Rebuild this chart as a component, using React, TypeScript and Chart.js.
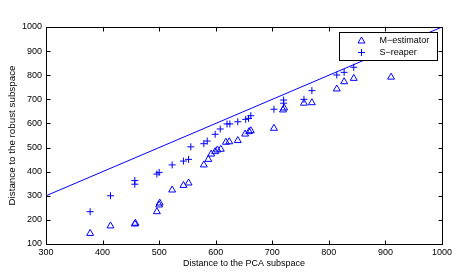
import React, { useEffect, useRef } from "react";
import { Chart, registerables } from "chart.js";

Chart.register(...registerables);

const xTicks = [300, 400, 500, 600, 700, 800, 900, 1000];
const yTicks = [100, 200, 300, 400, 500, 600, 700, 800, 900, 1000];

const mEstimatorX = [378, 414, 457, 458, 496, 500, 501, 523, 543, 552, 579, 587, 592, 599, 603, 609, 618, 624, 639, 652, 659, 662, 703, 719, 721, 756, 770, 814, 827, 844, 910];
const mEstimatorY = [144, 175, 183, 186, 234, 262, 270, 324, 343, 353, 428, 451, 473, 483, 490, 493, 522, 524, 529, 556, 566, 570, 580, 656, 664, 684, 686, 743, 773, 787, 792];

const sReaperX = [378, 414, 457, 457, 496, 500, 523, 543, 552, 556, 579, 585, 599, 608, 620, 625, 639, 653, 658, 662, 703, 720, 720, 756, 770, 814, 827, 844];
const sReaperY = [234, 300, 348, 363, 390, 397, 428, 444, 451, 503, 516, 527, 555, 577, 598, 598, 607, 617, 621, 632, 659, 684, 697, 700, 736, 801, 812, 833];

const identityX = [300, 1000];
const identityY = [300, 1000];

const seriesNames = ["M\u2212estimator", "S\u2212reaper"];
const BLUE = "rgb(0,0,255)";
const FONT = "'Liberation Sans', Arial, sans-serif";

const framePlugin = {
  id: "frame",
  afterDraw(chart: any) {
    const { ctx, chartArea: a, scales } = chart;
    ctx.save();
    ctx.strokeStyle = "#000";
    ctx.lineWidth = 1;
    const L = Math.round(a.left) + 0.5, R = Math.round(a.right) + 0.5;
    const T = Math.round(a.top) + 0.5, B = Math.round(a.bottom) + 0.5;
    ctx.strokeRect(L, T, R - L, B - T);
    const tl = 4;
    ctx.beginPath();
    for (const v of xTicks) {
      const x = Math.round(scales.x.getPixelForValue(v)) + 0.5;
      ctx.moveTo(x, B); ctx.lineTo(x, B - tl);
      ctx.moveTo(x, T); ctx.lineTo(x, T + tl);
    }
    for (const v of yTicks) {
      const y = Math.round(scales.y.getPixelForValue(v)) + 0.5;
      ctx.moveTo(L, y); ctx.lineTo(L + tl, y);
      ctx.moveTo(R, y); ctx.lineTo(R - tl, y);
    }
    ctx.stroke();

    // legend box
    const bx = Math.round(a.right) - 103 + 0.5, by = Math.round(a.top) + 5.5;
    const bw = 98, bh = 28;
    ctx.fillStyle = "#fff";
    ctx.fillRect(bx, by, bw, bh);
    ctx.strokeRect(bx, by, bw, bh);
    ctx.font = "9px " + FONT;
    ctx.textBaseline = "middle";
    const ds = chart.data.datasets;
    for (let i = 0; i < 2; i++) {
      const cy = by + 8 + i * 12;
      const mx = bx + 22;
      ctx.strokeStyle = BLUE;
      ctx.lineWidth = 1;
      if (i === 0) {
        ctx.beginPath();
        ctx.moveTo(mx, cy - 3.5);
        ctx.lineTo(mx + 3.5, cy + 2.5);
        ctx.lineTo(mx - 3.5, cy + 2.5);
        ctx.closePath();
        ctx.stroke();
      } else {
        ctx.beginPath();
        ctx.moveTo(mx - 3.5, cy); ctx.lineTo(mx + 3.5, cy);
        ctx.moveTo(mx, cy - 3.5); ctx.lineTo(mx, cy + 3.5);
        ctx.stroke();
      }
      ctx.fillStyle = "#000";
      ctx.fillText(ds[i].label, bx + 40, cy);
    }
    ctx.restore();
  },
};

export default function App() {
  const ref = useRef<HTMLCanvasElement | null>(null);
  useEffect(() => {
    if (!ref.current) return;
    const toPts = (xs: number[], ys: number[]) => xs.map((x, i) => ({ x, y: ys[i] }));
    const chart = new Chart(ref.current, {
      type: "scatter",
      data: {
        datasets: [
          {
            label: seriesNames[0],
            data: toPts(mEstimatorX, mEstimatorY),
            pointStyle: "triangle",
            pointRadius: 4,
            borderColor: BLUE,
            backgroundColor: "rgba(0,0,0,0)",
            borderWidth: 1,
          },
          {
            label: seriesNames[1],
            data: toPts(sReaperX, sReaperY),
            pointStyle: "cross",
            pointRadius: 3.5,
            borderColor: BLUE,
            backgroundColor: BLUE,
            borderWidth: 1,
          },
          {
            label: "y = x",
            data: toPts(identityX, identityY),
            showLine: true,
            pointRadius: 0,
            borderColor: BLUE,
            borderWidth: 1,
          },
        ],
      },
      options: {
        animation: false,
        responsive: false,
        layout: { padding: { top: 27, right: 22, left: 0, bottom: 0 } },
        plugins: { legend: { display: false }, tooltip: { enabled: false } },
        scales: {
          x: {
            type: "linear",
            min: 300,
            max: 1000,
            grid: { display: false, drawTicks: false, tickLength: 0 },
            border: { display: false },
            ticks: {
              stepSize: 100,
              padding: 3,
              color: "#000",
              font: { family: FONT, size: 9 },
              maxRotation: 0,
              callback: (v: any) => String(v),
            },
            title: { display: true, text: "Distance to the PCA subspace", color: "#000", font: { family: FONT, size: 9 }, padding: { top: 0, bottom: 3 } },
            afterFit: (s: any) => { s.height = 28; },
          },
          y: {
            type: "linear",
            min: 100,
            max: 1000,
            grid: { display: false, drawTicks: false, tickLength: 0 },
            border: { display: false },
            ticks: {
              stepSize: 100,
              padding: 4,
              color: "#000",
              font: { family: FONT, size: 9 },
              callback: (v: any) => String(v),
            },
            title: { display: true, text: "Distance to the robust subspace", color: "#000", font: { family: FONT, size: 9.8 }, padding: { top: 6, bottom: 0 } },
            afterFit: (s: any) => { s.width = 46; },
          },
        },
      },
      plugins: [framePlugin],
    });
    return () => chart.destroy();
  }, []);
  return (
    <div style={{ position: "absolute", left: 0, top: 0, width: 464, height: 272, background: "#fff" }}>
      <canvas ref={ref} width={464} height={272} style={{ width: 464, height: 272 }} />
    </div>
  );
}
